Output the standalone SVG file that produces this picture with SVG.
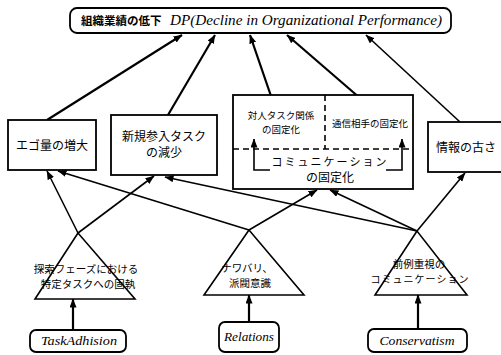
<svg xmlns="http://www.w3.org/2000/svg" width="501" height="355" viewBox="0 0 501 355">
<defs>
<marker id="ah" markerWidth="9" markerHeight="7" refX="8.5" refY="3.5" orient="auto" markerUnits="userSpaceOnUse">
<path d="M0,0 L9,3.5 L0,7 Z" fill="#000"/>
</marker>
<style>
.box{fill:#fff;stroke:#000;stroke-width:1.8}
.tri{fill:#fff;stroke:#000;stroke-width:1.6}
.ln{fill:none;stroke:#000;stroke-width:1.6;marker-end:url(#ah)}
.lnt{fill:none;stroke:#000;stroke-width:2.2;marker-end:url(#ah)}
.dash{fill:none;stroke:#000;stroke-width:1.6;stroke-dasharray:6,4}
.jp{font-family:"Noto Sans CJK JP","Noto Sans CJK SC",sans-serif;fill:#000;text-anchor:middle}
.it{font-family:"Liberation Serif",serif;font-style:italic;fill:#000;text-anchor:middle}
</style>
</defs>
<rect width="501" height="355" fill="#fff"/>

<g id="connectors">
<line class="lnt" x1="47" y1="120" x2="182" y2="35"/>
<line class="lnt" x1="168" y1="115" x2="215" y2="35"/>
<line class="lnt" x1="272" y1="99" x2="250" y2="35"/>
<line class="lnt" x1="368" y1="105" x2="287" y2="35"/>
<line class="ln" x1="460" y1="122" x2="366" y2="35"/>
<line class="ln" x1="78" y1="233" x2="47" y2="171"/>
<line class="ln" x1="78" y1="233" x2="154" y2="176"/>
<line class="ln" x1="249" y1="230" x2="58" y2="171"/>
<line class="ln" x1="249" y1="230" x2="317" y2="190"/>
<line class="ln" x1="417" y1="231" x2="165" y2="177"/>
<line class="ln" x1="417" y1="231" x2="330" y2="190"/>
<line class="ln" x1="417" y1="231" x2="465" y2="173"/>
<line class="lnt" x1="73" y1="330" x2="73" y2="299"/>
<line class="lnt" x1="249" y1="322" x2="249" y2="295"/>
<line class="lnt" x1="418" y1="329" x2="418" y2="295"/>
</g>

<g id="top">
<rect class="box" x="70" y="8" width="381" height="25" rx="7" stroke-width="2.2"/>
<text x="81" y="25" font-family="Noto Sans CJK JP,sans-serif" font-weight="bold" font-size="11.5">組織業績の低下</text>
<text x="170" y="25" font-family="Liberation Serif,serif" font-style="italic" font-size="14" textLength="272" lengthAdjust="spacingAndGlyphs">DP(Decline in Organizational Performance)</text>
</g>

<g id="ego">
<rect class="box" x="8" y="120" width="88" height="50"/>
<text class="jp" x="52" y="150" font-size="12">エゴ量の増大</text>
</g>

<g id="newtask">
<rect class="box" x="111" y="115" width="106" height="60"/>
<text class="jp" x="164" y="141" font-size="12">新規参入タスク</text>
<text class="jp" x="164" y="157" font-size="12">の減少</text>
</g>

<g id="comm">
<rect class="box" x="233" y="95" width="180" height="94"/>
<line class="dash" x1="233" y1="149" x2="413" y2="149"/>
<line class="dash" x1="325" y1="95" x2="325" y2="149"/>
<text class="jp" x="281" y="119" font-size="9.5">対人タスク関係</text>
<text class="jp" x="281" y="133" font-size="9.5">の固定化</text>
<text class="jp" x="370" y="127" font-size="9.5">通信相手の固定化</text>
<polyline class="ln" points="270,170 254,170 254,139" stroke-width="1.5"/>
<polyline class="ln" points="386,170 402,170 402,139" stroke-width="1.5"/>
<text class="jp" x="330" y="166" font-size="11" letter-spacing="2">コミュニケーション</text>
<text class="jp" x="330" y="182" font-size="12">の固定化</text>
</g>

<g id="info">
<rect class="box" x="428" y="122" width="80" height="50"/>
<text class="jp" x="466" y="152" font-size="12">情報の古さ</text>
</g>

<g id="tri-left">
<polygon class="tri" points="78,233 35,299 135,299"/>
<text class="jp" x="86" y="273" font-size="10.5">探索フェーズにおける</text>
<text class="jp" x="88" y="288" font-size="10.5">特定タスクへの固執</text>
</g>

<g id="tri-mid">
<polygon class="tri" points="249,230 204,295 304,295"/>
<text class="jp" x="247" y="272" font-size="10.5">ナワバリ、</text>
<text class="jp" x="250" y="287" font-size="10.5">派閥意識</text>
</g>

<g id="tri-right">
<polygon class="tri" points="417,231 375,295 467,295"/>
<text class="jp" x="419" y="268" font-size="10.5">前例重視の</text>
<text class="jp" x="420" y="283" font-size="10" letter-spacing="1">コミュニケーション</text>
</g>

<g id="taskadhision">
<rect class="box" x="30" y="330" width="96" height="22" rx="6"/>
<text class="it" x="79" y="345" font-size="12" textLength="76" lengthAdjust="spacingAndGlyphs">TaskAdhision</text>
</g>

<g id="relations">
<rect class="box" x="219" y="322" width="60" height="30" rx="6"/>
<text class="it" x="249" y="341" font-size="12" textLength="50" lengthAdjust="spacingAndGlyphs">Relations</text>
</g>

<g id="conservatism">
<rect class="box" x="368" y="329" width="99" height="23" rx="6"/>
<text class="it" x="417" y="345" font-size="12" textLength="75" lengthAdjust="spacingAndGlyphs">Conservatism</text>
</g>
</svg>
